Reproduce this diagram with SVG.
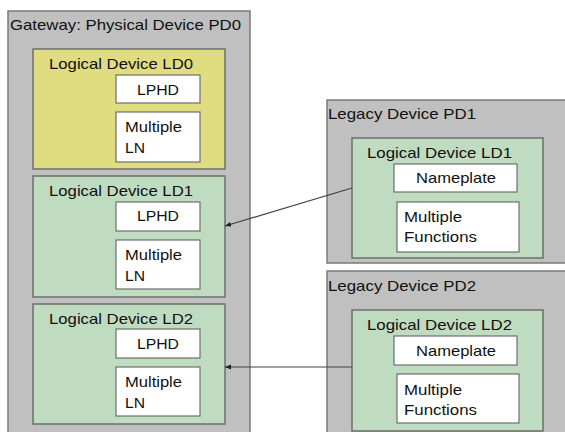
<svg xmlns="http://www.w3.org/2000/svg" width="565" height="432" viewBox="0 0 565 432">
  <defs>
    <style>
      .pd { fill: #c0c0c0; stroke: #7a7a7a; stroke-width: 1.5; }
      .ld { fill: #c0dcc0; stroke: #6e6e6e; stroke-width: 1.5; }
      .ld0 { fill: #e0dc80; stroke: #6e6e6e; stroke-width: 1.5; }
      .ln { fill: #ffffff; stroke: #6e6e6e; stroke-width: 1.2; }
      text { font-family: "Liberation Sans", Arial, sans-serif; font-size: 14.5px; fill: #111111; }
      .c { text-anchor: middle; }
      .conn { fill: none; stroke: #404040; stroke-width: 1.2; }
    </style>
    <marker id="arrow" viewBox="0 0 10 10" refX="10" refY="5" markerWidth="6" markerHeight="6" orient="auto" markerUnits="userSpaceOnUse">
      <path d="M0,1 L10,5 L0,9 Z" fill="#202020"/>
    </marker>
  </defs>
  <rect width="565" height="432" fill="#ffffff"/>

  <!-- Gateway physical device -->
  <g id="pd0">
    <rect class="pd" x="8" y="11" width="242" height="430"/>
    <text x="10" y="30" textLength="231" lengthAdjust="spacingAndGlyphs">Gateway: Physical Device PD0</text>
  </g>

  <g id="gw-ld0">
    <rect class="ld0" x="33" y="49" width="192" height="120"/>
    <text x="49" y="69" textLength="144" lengthAdjust="spacingAndGlyphs">Logical Device LD0</text>
    <rect class="ln" x="116" y="75" width="84" height="28"/>
    <text class="c" x="158" y="95" textLength="42" lengthAdjust="spacingAndGlyphs">LPHD</text>
    <rect class="ln" x="116" y="112" width="84" height="50"/>
    <text x="125" y="132" textLength="57" lengthAdjust="spacingAndGlyphs">Multiple</text>
    <text x="125" y="153" textLength="20" lengthAdjust="spacingAndGlyphs">LN</text>
  </g>

  <g id="gw-ld1">
    <rect class="ld" x="33" y="176" width="192" height="121"/>
    <text x="49" y="196" textLength="144" lengthAdjust="spacingAndGlyphs">Logical Device LD1</text>
    <rect class="ln" x="116" y="202" width="84" height="29"/>
    <text class="c" x="158" y="221" textLength="42" lengthAdjust="spacingAndGlyphs">LPHD</text>
    <rect class="ln" x="116" y="240" width="84" height="49"/>
    <text x="125" y="260" textLength="57" lengthAdjust="spacingAndGlyphs">Multiple</text>
    <text x="125" y="281" textLength="20" lengthAdjust="spacingAndGlyphs">LN</text>
  </g>

  <g id="gw-ld2">
    <rect class="ld" x="33" y="304" width="192" height="120"/>
    <text x="49" y="324" textLength="144" lengthAdjust="spacingAndGlyphs">Logical Device LD2</text>
    <rect class="ln" x="116" y="329" width="84" height="29"/>
    <text class="c" x="158" y="349" textLength="42" lengthAdjust="spacingAndGlyphs">LPHD</text>
    <rect class="ln" x="116" y="367" width="84" height="49"/>
    <text x="125" y="387" textLength="57" lengthAdjust="spacingAndGlyphs">Multiple</text>
    <text x="125" y="408" textLength="20" lengthAdjust="spacingAndGlyphs">LN</text>
  </g>

  <!-- Legacy device PD1 -->
  <g id="pd1">
    <rect class="pd" x="327" y="100" width="250" height="163"/>
    <text x="328" y="119" textLength="148" lengthAdjust="spacingAndGlyphs">Legacy Device PD1</text>
  </g>
  <g id="pd1-ld1">
    <rect class="ld" x="352" y="138" width="191" height="120"/>
    <text x="367" y="158" textLength="145" lengthAdjust="spacingAndGlyphs">Logical Device LD1</text>
    <rect class="ln" x="394" y="164" width="123" height="28"/>
    <text class="c" x="456" y="183" textLength="80" lengthAdjust="spacingAndGlyphs">Nameplate</text>
    <rect class="ln" x="397" y="202" width="122" height="50"/>
    <text x="404" y="222" textLength="58" lengthAdjust="spacingAndGlyphs">Multiple</text>
    <text x="404" y="242" textLength="73" lengthAdjust="spacingAndGlyphs">Functions</text>
  </g>

  <!-- Legacy device PD2 -->
  <g id="pd2">
    <rect class="pd" x="327" y="271" width="250" height="170"/>
    <text x="328" y="291" textLength="148" lengthAdjust="spacingAndGlyphs">Legacy Device PD2</text>
  </g>
  <g id="pd2-ld2">
    <rect class="ld" x="352" y="310" width="191" height="121"/>
    <text x="367" y="330" textLength="145" lengthAdjust="spacingAndGlyphs">Logical Device LD2</text>
    <rect class="ln" x="394" y="336" width="123" height="29"/>
    <text class="c" x="456" y="356" textLength="80" lengthAdjust="spacingAndGlyphs">Nameplate</text>
    <rect class="ln" x="397" y="374" width="122" height="49"/>
    <text x="404" y="395" textLength="58" lengthAdjust="spacingAndGlyphs">Multiple</text>
    <text x="404" y="415" textLength="73" lengthAdjust="spacingAndGlyphs">Functions</text>
  </g>

  <!-- Connectors: legacy logical devices mapped into the gateway -->
  <g id="connectors">
    <line class="conn" x1="352" y1="188" x2="225" y2="226" marker-end="url(#arrow)"/>
    <line class="conn" x1="352" y1="367" x2="225" y2="367" marker-end="url(#arrow)"/>
  </g>
</svg>
